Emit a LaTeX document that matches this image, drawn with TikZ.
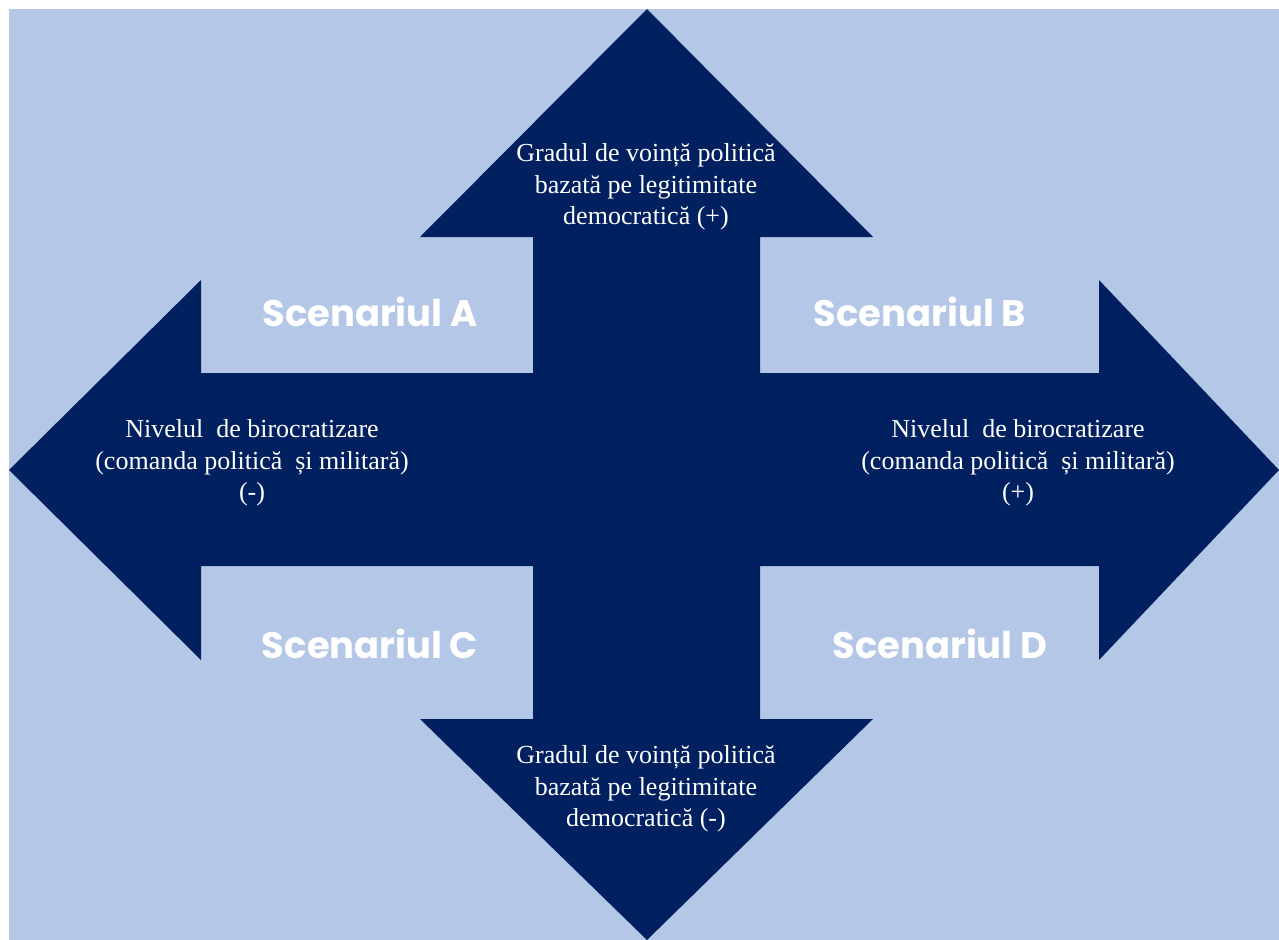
\documentclass[tikz,border=0pt]{standalone}
\usepackage{fontspec}
\setmainfont{Liberation Serif}
\newfontfamily\scenfont{Poppins}
\definecolor{navy}{HTML}{002060}
\definecolor{paleblue}{HTML}{B4C7E7}
\tikzset{
	axislabel/.style={text=white, align=center, font=\fontsize{14.8}{17.9}\selectfont},
	scenlabel/.style={text=white, font=\scenfont\bfseries\fontsize{21}{25}\selectfont}
}
\begin{document}
\begin{tikzpicture}[x=0.02cm, y=-0.02cm]
				\useasboundingbox (0,0) rectangle (1279,940);
				\fill[white] (0,0) rectangle (1279,940);
				\fill[paleblue] (9,9) rectangle (1279,940);
				% the four-way arrow
				\fill[navy] (647,9) -- (873,237) -- (760,237) -- (760,373) -- (1099,373) -- (1099,280) -- (1279,470) -- (1099,660) -- (1099,566) -- (760,566) -- (760,719) -- (873,719) -- (647,940) -- (420,719) -- (533,719) -- (533,566) -- (201,566) -- (201,660) -- (9,470) -- (201,280) -- (201,373) -- (533,373) -- (533,237) -- (420,237) -- cycle;

				\node[axislabel] (up) at (646,187) {Gradul de voință politică\\bazată pe legitimitate\\democratică (+)};
				\node[axislabel] (down) at (646,789) {Gradul de voință politică\\bazată pe legitimitate\\democratică (-)};
				\node[axislabel] (left) at (252,463) {Nivelul\ \ de birocratizare\\(comanda politică\ \ și militară)\\(-)};
				\node[axislabel] (right) at (1018,463) {Nivelul\ \ de birocratizare\\(comanda politică\ \ și militară)\\(+)};

				\node[scenlabel] (scenA) at (370,312) {Scenariul A};
				\node[scenlabel] (scenB) at (920,312) {Scenariul B};
				\node[scenlabel] (scenC) at (370,644) {Scenariul C};
				\node[scenlabel] (scenD) at (940,644) {Scenariul D};

			\end{tikzpicture}
\end{document}
